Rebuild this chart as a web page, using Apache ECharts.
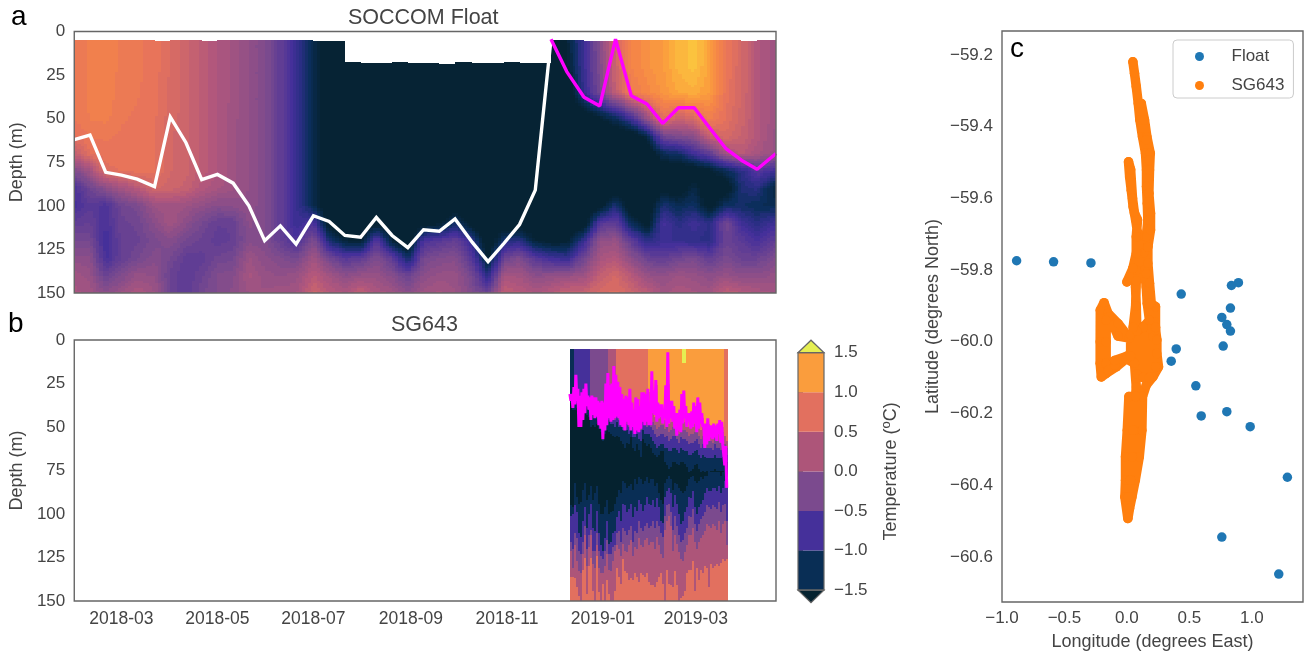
<!DOCTYPE html>
<html><head><meta charset="utf-8">
<style>html,body{margin:0;padding:0;background:#fff}#c{width:1306px;height:657px}</style>
<script src="https://cdn.jsdelivr.net/npm/echarts@6/dist/echarts.min.js"></script>
</head><body><div id="c"></div>
<script>
// ---------- Panel a: float profiles ----------
const floatDates = ['2018-01-30','2018-02-09','2018-02-19','2018-03-01','2018-03-11','2018-03-22','2018-04-01','2018-04-11','2018-04-21','2018-05-01','2018-05-11','2018-05-21','2018-05-31','2018-06-10','2018-06-20','2018-07-01','2018-07-11','2018-07-21','2018-07-31','2018-08-10','2018-08-20','2018-08-30','2018-09-09','2018-09-19','2018-09-29','2018-10-10','2018-10-20','2018-10-30','2018-11-09','2018-11-19','2018-11-29','2018-12-09','2018-12-20','2018-12-30','2019-01-09','2019-01-19','2019-01-29','2019-02-08','2019-02-18','2019-02-28','2019-03-10','2019-03-20','2019-03-30','2019-04-09','2019-04-21'];
const floatDepths = [5,20,35,50,60,70,80,90,100,110,120,130,140,150];
const temp5m = [.8,.9,.95,.85,.82,.75,.62,.5,.35,.2,.1,-.05,-.2,-.5,-.85,-1.35,-1.85,-1.9,-1.9,-1.9,-1.9,-1.9,-1.9,-1.9,-1.9,-1.9,-1.9,-1.9,-1.9,-1.9,-1.9,-1.5,-.85,-.15,.55,.95,1.1,1.2,1.4,1.5,1.25,.8,.55,.25,.05];
const temp20m = [.8,.9,.95,.85,.82,.75,.62,.5,.35,.2,.1,-.05,-.2,-.5,-.85,-1.35,-1.85,-1.9,-1.9,-1.9,-1.9,-1.9,-1.9,-1.9,-1.9,-1.9,-1.9,-1.9,-1.9,-1.9,-1.9,-1.6,-.85,-.2,.5,.95,1.1,1.2,1.4,1.5,1.25,.8,.55,.25,.05];
const temp35m = [.8,.9,.95,.82,.8,.74,.6,.5,.35,.2,.1,-.05,-.2,-.5,-.85,-1.35,-1.85,-1.9,-1.9,-1.9,-1.9,-1.9,-1.9,-1.9,-1.9,-1.9,-1.9,-1.9,-1.9,-1.9,-1.9,-1.9,-.9,-.3,.4,.85,1,1.15,1.3,1.35,1.2,.75,.55,.25,.05];
const temp50m = [.8,.88,.9,.8,.78,.72,.58,.5,.35,.2,.08,-.05,-.2,-.5,-.85,-1.35,-1.85,-1.9,-1.9,-1.9,-1.9,-1.9,-1.9,-1.9,-1.9,-1.9,-1.9,-1.9,-1.9,-1.9,-1.9,-1.9,-1.9,-1.6,-1.3,-.8,0,.7,.45,.6,.9,.7,.5,.25,.05];
const temp60m = [.7,.8,.8,.78,.75,.72,.55,.5,.35,.2,.08,-.05,-.2,-.5,-.85,-1.35,-1.85,-1.9,-1.9,-1.9,-1.9,-1.9,-1.9,-1.9,-1.9,-1.9,-1.9,-1.9,-1.9,-1.9,-1.9,-1.9,-1.9,-1.9,-1.9,-1.85,-1.4,-.35,-.2,-.1,.45,.6,.45,.25,0];
const temp70m = [.4,.7,.78,.78,.75,.72,.55,.5,.35,.2,.08,-.05,-.2,-.5,-.85,-1.35,-1.85,-1.9,-1.9,-1.9,-1.9,-1.9,-1.9,-1.9,-1.9,-1.9,-1.9,-1.9,-1.9,-1.9,-1.9,-1.9,-1.9,-1.9,-1.9,-1.9,-1.9,-1.3,-1.2,-.8,-.5,.1,.3,.15,0];
const temp80m = [-.2,.1,.65,.72,.75,.72,.55,.5,.35,.2,.08,-.05,-.2,-.5,-.85,-1.35,-1.85,-1.9,-1.9,-1.9,-1.9,-1.9,-1.9,-1.9,-1.9,-1.9,-1.9,-1.9,-1.9,-1.9,-1.9,-1.9,-1.9,-1.9,-1.9,-1.9,-1.9,-1.8,-1.85,-1.8,-1.6,-1.3,-1,-.6,-.8];
const temp90m = [-.7,-.35,-.1,.1,.3,.55,.5,.42,.25,.15,.05,-.05,-.2,-.5,-.85,-1.35,-1.85,-1.9,-1.9,-1.9,-1.9,-1.9,-1.9,-1.9,-1.9,-1.9,-1.9,-1.9,-1.9,-1.9,-1.9,-1.9,-1.9,-1.9,-1.8,-1.9,-1.9,-1.7,-1.8,-1.4,-1.9,-1.8,-1.1,-1,-1.5];
const temp100m = [-.75,-.55,-.7,-.35,-.25,.05,.1,.05,-.05,-.15,-.1,-.05,-.2,-.5,-.85,-1.35,-1.85,-1.9,-1.9,-1.9,-1.9,-1.9,-1.9,-1.9,-1.8,-1.9,-1.9,-1.9,-1.9,-1.9,-1.9,-1.9,-1.9,-1.7,-1.1,-1.8,-1.9,-1.1,-1.3,-1.2,-1.7,-1.2,-1.2,-1.3,-1.3];
const temp110m = [-.5,-.45,-.7,-.4,-.35,-.1,.1,-.1,-.3,-.45,-.45,-.1,-.2,-.5,-.85,-.7,-1.7,-1.9,-1.9,-1.7,-1.9,-1.9,-1.7,-1.6,-1.2,-1.7,-1.9,-1.9,-1.8,-1.9,-1.9,-1.85,-1.8,-.6,-.5,-1.3,-1.7,-.75,-1,-.8,-1,-.3,-.8,-1,-.8];
const temp120m = [-.3,-.3,-.8,-.45,-.4,-.25,-.15,-.3,-.4,-.5,-.45,-.15,-.2,-.45,-.7,-.2,-1.1,-1.5,-1.6,-.6,-1.5,-1.9,-.7,-.6,-.45,-.9,-1.9,-1.1,-1,-1.5,-1.65,-1.6,-.9,-.05,0,-.5,-1,-.85,-.9,-.95,-1,-.4,-.55,-.75,-.5];
const temp130m = [-.1,-.1,-.75,-.45,-.3,-.15,-.3,-.5,-.5,-.35,-.3,.05,-.1,-.2,-.3,.1,-.3,-.6,-.5,-.2,-.5,-1.2,-.3,-.2,-.15,-.6,-1.6,-.4,-.2,-.6,-.8,-.9,-.35,.15,.25,-.1,-.4,-.5,-.35,-.25,-.5,-.25,-.4,-.4,-.2];
const temp140m = [.1,0,-.4,-.2,0,-.05,-.4,-.55,-.4,-.2,-.15,.15,0,-.05,0,.3,.1,-.1,0,0,-.15,-.4,-.1,0,0,-.3,-1,.15,.1,-.1,-.05,0,.05,.4,.55,.3,0,-.05,.05,0,-.1,0,-.1,-.1,0];
const temp150m = [.15,.1,-.1,.05,.2,.05,-.4,-.55,-.3,-.2,-.1,.05,.05,.1,.1,.5,.3,.2,.4,.2,.1,-.1,.1,.15,.05,-.2,-.4,.4,.3,.2,.3,.45,.45,.6,.65,.5,.35,.1,.2,.15,.1,.4,.3,.2,.1];
const floatTopDepth = [5,5,5,5,5,5.5,5,5,5.5,5,5,5,5,5,5,5.5,5.5,17.5,18.2,18,17.4,17.8,18.2,18.4,17.6,18.1,18.3,17.4,17.8,18,5,5,5.5,5.5,5,5,5,5,5,5,5,5,5.5,5,5];
const mldWinter = [62,59.4,80.8,82.4,84.7,89,49,63.8,85,82,87,100,120,111.5,122,105.7,109,117,118,106.7,117,124,113.7,114.6,107.5,121,132,121.6,110.7,91,4.4];
const mldSummer = [4.4,23,37.7,42.7,4.4,36.8,41.6,52.7,43.7,43.7,55.5,67,73.8,79,70];

// ---------- Panel b: glider dive columns, isotherm depths (m) ----------
const sgStartDate = '2018-12-11';
const sgDiveDay = [0,1.27,2.54,3.81,5.08,6.35,7.62,8.89,10.16,11.43,12.7,13.97,15.24,16.51,17.78,19.05,20.32,21.59,22.86,24.13,25.4,26.67,27.94,29.21,30.48,31.75,33.02,34.29,35.56,36.83,38.1,39.37,40.64,41.91,43.18,44.45,45.72,46.99,48.26,49.53,50.8,52.07,53.34,54.61,55.88,57.15,58.42,59.69,60.96,62.23,63.5,64.77,66.04,67.31,68.58,69.85,71.12,72.39,73.66,74.93,76.2,77.47,78.74,80.01,81.28,82.55,83.82,85.09,86.36,87.63,88.9,90.17,91.44,92.71,93.98,95.25,96.52,97.79,99.06,100.33];
const sgMldShallow = [31,31,27,20,28,32,30,28,25,32,33,32,33,33,35,36,35,36,25,19,26,25,15,20,24,27,31,34,32,33,28,36,40,33,34,38,30,30,31,28,40,18,29,23,36,37,37,40,26,7,35,35,38,42,42,40,31,29,38,42,42,41,36,38,33,36,42,48,48,45,49,49,48,49,48,46,47,61,61];
const sgMldDeep = [35,39,37,35,50,50,46,42,38,40,46,43,45,44,49,51,57,52,49,45,47,46,45,44,45,49,50,52,47,49,52,50,54,52,53,51,47,49,47,49,49,42,43,47,45,44,48,45,50,48,45,47,51,55,52,53,48,45,50,47,51,50,48,53,51,48,50,62,60,58,56,57,56,58,54,59,60,72,85];
const sgIsoUp1500 = [5,5,5,5,5,5,5,5,5,5,5,5,5,5,5,5,5,5,5,5,5,5,5,5,5,5,5,5,5,5,5,5,5,5,5,5,5,5,5,5,5,5,5,5,5,5,5,5,5,5,5,5,5,5,5,5,13,13,5,5,5,5,5,5,5,5,5,5,5,5,5,5,5,5,5,5,5,5,5];
const sgIsoUp1000 = [5,5,5,5,5,5,5,5,5,5,5,5,5,5,5,5,5,5,5,5,5,5,5,5,5,5,5,5,5,5,5,5,5,5,5,5,5,5,5,30,30,36,40,26,38,40,41,42,36,25,40,40,42,44,45,44,40,38,42,45,45,44,42,43,40,42,45,50,50,48,52,52,50,52,51,49,50,5,5];
const sgIsoUp500 = [5,5,5,5,5,5,5,5,5,5,5,5,5,5,5,5,5,5,5,5,5,5,5,37,38,38,39,39,40,43,38,42,44,41,43,44,40,42,42,41,42,42,44,46,45,44,44,46,45,48,47,45,45,47,49,46,47,47,48,50,49,49,48,47,50,52,50,51,53,53,53,54,51,53,53,54,53,55,58];
const sgIsoUp0 = [5,5,5,5,5,5,5,5,5,5,5,5,5,5,5,5,5,5,5,41,43,42,43,41,43,43,43,44,45,47,42,46,48,45,47,48,44,46,46,45,46,47,49,51,50,49,49,51,50,53,52,50,50,52,54,51,52,52,53,55,54,54,53,52,55,57,55,56,58,58,58,59,56,58,58,59,58,60,62];
const sgIsoUpM500 = [5,5,5,5,5,5,5,5,5,5,40,39,41,37,42,44,46,44,43,43,45,45,46,44,46,46,46,47,48,50,45,50,52,48,50,52,47,49,50,49,50,52,54,56,55,54,54,56,55,58,57,55,55,57,59,56,57,57,58,60,59,59,58,57,60,62,60,61,62,62,62,63,60,62,62,63,62,64,66];
const sgIsoUpM1000 = [5,5,36,36,44,44,42,36,38,40,45,42,45,40,46,48,50,48,46,46,48,48,50,47,50,50,52,52,52,54,50,56,56,54,57,58,52,54,54,54,56,58,60,62,61,60,60,62,62,64,64,62,62,63,65,62,63,64,64,66,66,65,64,63,66,68,66,67,68,68,68,68,66,68,68,68,67,68,70];
const sgIsoUpM1500 = [36,40,40,39,50,50,46,40,43,44,50,49,50,48,51,53,58,54,52,53,54,55,56,55,56,58,60,62,59,60,56,62,64,60,63,67,57,59,61,60,62,65,66,67,66,64,64,70,72,74,73,70,70,71,72,70,70,71,73,76,75,74,72,71,74,76,75,76,75,76,75,75,74,75,75,75,75,75,75];
const sgIsoDownM1500 = [95,96,82,90,94,93,86,82,92,89,84,92,88,84,94,100,100,96,92,100,99,98,94,90,86,88,81,82,85,84,83,86,80,83,79,80,83,81,79,82,80,80,84,82,88,92,94,82,80,78,80,86,82,83,85,87,88,87,84,80,79,78,81,82,81,79,80,78,78,76,76,76,76,76,76,78,76,75,75];
const sgIsoDownM1000 = [101,100,95,99,111,113,104,96,108,100,94,108,110,98,111,118,121,114,104,117,116,111,110,102,98,104,94,95,99,97,94,102,96,98,92,94,98,95,90,94,95,92,96,91,96,104,105,90,87,85,88,96,89,94,100,106,104,99,96,90,91,87,96,100,96,94,92,88,85,87,87,85,85,87,84,88,85,81,80];
const sgIsoDownM500 = [116,120,111,114,121,123,116,107,120,112,109,121,121,111,121,124,126,121,115,123,123,119,118,111,110,116,108,110,112,109,107,116,110,111,104,108,110,107,105,108,107,104,108,104,107,111,113,101,95,94,99,109,101,107,112,116,115,111,108,101,102,97,106,110,106,103,101,99,95,96,97,95,96,97,93,99,95,94,104];
const sgIsoDown0 = [121,131,118,127,133,134,123,112,130,119,112,129,131,118,131,134,134,130,123,132,133,127,121,118,120,124,117,121,122,118,115,124,119,120,114,118,119,115,114,118,116,116,120,113,118,123,125,109,104,101,107,121,112,117,122,126,127,122,118,112,112,108,116,120,116,114,112,110,106,107,108,106,107,109,104,111,106,104,118];
const sgIsoDown500 = [136,136,137,142,147,150,132,125,146,130,125,144,150,124,145,150,140,150,138,146,150,150,144,131,136,140,126,133,134,138,137,138,134,136,139,134,135,136,134,139,141,141,142,139,136,134,140,150,132,140,141,142,133,141,150,148,147,144,134,132,132,127,144,131,138,132,134,130,131,142,129,131,130,129,130,128,126,127,126];
const sgBandTemps = [1.75,1.25,.75,.25,-.25,-.75,-1.25,-1.75,-1.25,-.75,-.25,.25,.75];

// ---------- Panel c: positions ----------
const floatLon = [-.883,-.587,-.288,.435,.893,.837,.829,.76,.8,.829,.395,.355,.771,.552,.595,.8,.987,1.285,.76,1.216];
const floatLat = [-59.774,-59.777,-59.78,-59.867,-59.835,-59.843,-59.906,-59.932,-59.952,-59.97,-60.02,-60.054,-60.012,-60.123,-60.207,-60.195,-60.237,-60.378,-60.545,-60.648];
const sgLon = [.048,.061,.075,.091,.104,.125,.149,.157,.157,.163,.168,.155,.133,.141,.155,.163,.181,.208,.229,.229,.195,.181,.168,.168,.189,.189,.176,.181,.187,.16,.141,.115,.155,.176,.176,.181,.168,.155,.181,.221,.24,.24,.253,.208,.155,.125,.12,.099,.067,.04,.021,.008,-.016,-.011,-.011,.003,.016,.07,.06,.044,.028,.012,.028,.048,.075,.061,-.005,-.085,-.165,-.205,-.214,-.214,-.213,-.183,-.151,-.071,.02,-.071,-.14,-.166,-.166,-.166,-.15,-.098,0,-.098,.03,.03,.08,.08,.13,.13,.18,.18,.23,.23,.13,.08,.075,.069,.075,.085,.09,.07,.05,.035,.022,.013,.03,.045,.06,.085,.075,.075,.048,0,.048,.075,.07,.05];
const sgLat = [-59.219,-59.251,-59.288,-59.335,-59.381,-59.428,-59.474,-59.521,-59.567,-59.614,-59.66,-59.707,-59.753,-59.8,-59.847,-59.893,-59.94,-59.986,-59.967,-59.902,-59.893,-59.837,-59.781,-59.735,-59.688,-59.642,-59.586,-59.521,-59.474,-59.428,-59.381,-59.335,-59.437,-59.493,-59.586,-59.66,-59.735,-59.81,-59.893,-59.944,-59.995,-60.033,-60.07,-60.098,-60.121,-60.153,-60.247,-60.321,-60.386,-60.433,-60.465,-60.493,-60.433,-60.386,-60.321,-60.247,-60.153,-60.153,-60.247,-60.321,-60.386,-60.433,-60.386,-60.247,-60.126,-60.06,-60.047,-60.07,-60.088,-60.098,-60.06,-60,-59.912,-59.891,-59.921,-59.949,-59.99,-59.984,-59.93,-59.94,-60,-60.06,-60.08,-60.065,-60.04,-60.052,-60.04,-59.98,-59.97,-60.09,-60.1,-59.96,-59.94,-60.1,-60.07,-59.96,-59.96,-59.97,-59.9,-59.847,-59.8,-59.755,-59.707,-59.66,-59.623,-59.577,-59.54,-59.498,-59.52,-59.6,-59.64,-59.66,-59.707,-59.753,-59.795,-59.833,-59.795,-59.83,-59.9,-59.96];

// ---------- Ticks, labels ----------
const dateTicks = ['2018-03-01','2018-05-01','2018-07-01','2018-09-01','2018-11-01','2019-01-01','2019-03-01'];
const timeRange = ['2018-01-30','2019-04-21'];
const colourLevels = [-1.5,-1,-.5,0,.5,1,1.5];
const binColours = ['#092e55','#45309a','#7b4a8e','#ad5579','#e2705f','#fa9d3d'];
const underColour = '#05222f', overColour = '#e5ef52';
const lonTicks = [-1,-.5,0,.5,1];
const latTicks = [-60.6,-60.4,-60.2,-60,-59.8,-59.6,-59.4,-59.2];
const latRange = [-60.726,-59.133], lonRange = [-1,1.41];
// stops of the smooth filled-contour colour ramp used in panel a
const rampValues = [-1.55,-1.25,-1,-.75,-.25,.25,.75,1,1.25,1.5,1.75];
const rampColours = ['#062334','#0b2e5c','#2a2e84','#45309a','#7a4a8e','#b2577c','#e8745a','#f58647','#fba03d','#fbc33e','#e6ef50'];

// ---------- helpers ----------
// the x axes count days from the first date tick; the labels turn them back into months
const dayBase = new Date(dateTicks[0]).getTime();
const ts = s => (new Date(s).getTime()-dayBase)/864e5;
const font = 'Liberation Sans';
const textColour = '#444';
const hex = c => [1,3,5].map(i => parseInt(c.substr(i,2),16));
function rampColour(v){
  v = Math.round(v*12)/12;                    // contour-like steps
  if (v <= rampValues[0]) return rampColours[0];
  for (let i=1;i<rampValues.length;i++){
    if (v <= rampValues[i]){
      const f=(v-rampValues[i-1])/(rampValues[i]-rampValues[i-1]), a=hex(rampColours[i-1]), b=hex(rampColours[i]);
      return 'rgb('+a.map((x,k)=>Math.round(x+(b[k]-x)*f)).join(',')+')';
    }
  }
  return rampColours[rampColours.length-1];
}
function binColour(v){
  if (v < colourLevels[0]) return underColour;
  if (v > colourLevels[6]) return overColour;
  for (let i=0;i<6;i++) if (v <= colourLevels[i+1]) return binColours[i];
}
const minusFmt = d => v => Number(v).toFixed(d).replace('-','\u2212');

// panel a cells
const tempRows = [temp5m,temp20m,temp35m,temp50m,temp60m,temp70m,temp80m,temp90m,temp100m,temp110m,temp120m,temp130m,temp140m,temp150m];
const cells = [];
for (let i=0;i<floatDates.length-1;i++) for (let j=0;j<floatDepths.length-1;j++)
  cells.push([ts(floatDates[i]),floatDepths[j],ts(floatDates[i+1]),floatDepths[j+1],tempRows[j][i],tempRows[j][i+1],tempRows[j+1][i],tempRows[j+1][i+1],floatTopDepth[i]]);

// pixel-snapped rectangle, so neighbouring shading tiles leave no seams
const snapRect = (x0,y0,x1,y1,fill) => {
  const X=Math.round(x0),Y=Math.round(y0);
  return {type:'rect',silent:true,shape:{x:X,y:Y,width:Math.max(1,Math.round(x1)-X),height:Math.max(1,Math.round(y1)-Y)},style:{fill}};
};
function renderCell(params,api){
  const t0=api.value(0),d0=api.value(1),t1=api.value(2),d1=api.value(3);
  const v00=api.value(4),v10=api.value(5),v01=api.value(6),v11=api.value(7),top=api.value(8);
  const a=api.coord([t0,d0]),b=api.coord([t1,d1]);
  const w=b[0]-a[0],h=b[1]-a[1],nx=Math.max(1,Math.round(w/3)),ny=Math.max(1,Math.round(h/2.5));
  const children=[];
  for(let ix=0;ix<nx;ix++)for(let iy=0;iy<ny;iy++){
    const u=(ix+.5)/nx,v=(iy+.5)/ny;
    let dA=d0+(d1-d0)*iy/ny,dB=d0+(d1-d0)*(iy+1)/ny;
    if(dB<=top)continue;
    if(dA<top)dA=top;
    const val=v00*(1-u)*(1-v)+v10*u*(1-v)+v01*(1-u)*v+v11*u*v;
    const yA=a[1]+(dA-d0)/(d1-d0)*h,yB=a[1]+(dB-d0)/(d1-d0)*h;
    children.push(snapRect(a[0]+w*ix/nx,yA,a[0]+w*(ix+1)/nx,yB,rampColour(val)));
  }
  return {type:'group',children};
}

// panel b columns
const sgDays = sgDiveDay.map(d => ts(sgStartDate)+d);
const sgColumns = sgMldDeep.map((_,k)=>[sgDays[k],sgDays[k+1],5,sgIsoUp1500[k],sgIsoUp1000[k],sgIsoUp500[k],sgIsoUp0[k],sgIsoUpM500[k],sgIsoUpM1000[k],sgIsoUpM1500[k],sgIsoDownM1500[k],sgIsoDownM1000[k],sgIsoDownM500[k],sgIsoDown0[k],sgIsoDown500[k],150]);
function renderColumn(params,api){
  const t0=api.value(0),t1=api.value(1),children=[];
  let prev=api.value(2);
  sgBandTemps.forEach((temp,n)=>{
    const next=Math.max(prev,api.value(n+3));
    if(next>prev){
      const a=api.coord([t0,prev]),b=api.coord([t1,next]);
      children.push(snapRect(a[0],a[1],b[0],b[1],binColour(temp)));
    }
    prev=next;
  });
  return {type:'group',children};
}
const sgMldLine = [];
sgMldShallow.forEach((d,k)=>{
  sgMldLine.push([sgDays[k],d]);
  sgMldLine.push([(sgDays[k]+sgDays[k+1])/2,sgMldDeep[k]]);
});

// colour bar
const cbarBands = binColours.map((c,i)=>[0,colourLevels[i],1,colourLevels[i+1],i]);
function renderBand(params,api){
  const a=api.coord([0,api.value(3)]),b=api.coord([1,api.value(1)]);
  return {type:'rect',shape:{x:a[0],y:a[1],width:b[0]-a[0],height:b[1]-a[1]},style:{fill:binColours[api.value(4)]}};
}
function renderEnds(params,api){
  const tl=api.coord([0,colourLevels[6]]),tr=api.coord([1,colourLevels[6]]),bl=api.coord([0,colourLevels[0]]),br=api.coord([1,colourLevels[0]]);
  const cx=(tl[0]+tr[0])/2,ext=12.5,line={stroke:'#666',lineWidth:1.2};
  return {type:'group',children:[
    {type:'polygon',shape:{points:[tl,tr,[cx,tl[1]-ext]]},style:{fill:overColour,...line}},
    {type:'polygon',shape:{points:[bl,br,[cx,bl[1]+ext]]},style:{fill:underColour,...line}},
    {type:'rect',shape:{x:tl[0],y:tl[1],width:tr[0]-tl[0],height:bl[1]-tl[1]},style:{fill:'none',...line}}
  ]};
}
function frame(xi,yi){
  return {type:'custom',xAxisIndex:xi,yAxisIndex:yi,z:30,silent:true,data:[[0]],encode:{},clip:false,tooltip:{show:false},
    renderItem:(params)=>{const c=params.coordSys;return {type:'rect',shape:{x:c.x,y:c.y,width:c.width,height:c.height},style:{fill:'none',stroke:'#666',lineWidth:1.4}};}};
}
const axisText = {color:textColour,fontFamily:font,fontSize:17};
const dateText = {color:textColour,fontFamily:font,fontSize:17.5};
const nameText = {color:textColour,fontFamily:font,fontSize:18};
const titleText = {color:textColour,fontFamily:font,fontSize:21.5,fontWeight:'normal'};
const timeAxis = (idx,labels) => ({type:'value',gridIndex:idx,min:ts(timeRange[0]),max:ts(timeRange[1]),
  axisLine:{show:false},axisTick:{show:false},splitLine:{show:false},
  axisLabel:{show:labels,...dateText,margin:9,hideOverlap:false,customValues:dateTicks.map(ts),
    formatter:v=>new Date(dayBase+Number(v)*864e5).toISOString().slice(0,7)}});
const depthAxis = idx => ({type:'value',gridIndex:idx,inverse:true,min:0,max:150,interval:25,
  name:'Depth (m)',nameLocation:'middle',nameGap:46,nameTextStyle:nameText,
  axisLine:{show:false},axisTick:{show:false},splitLine:{show:false},axisLabel:{...axisText,margin:9}});

const option = {
  animation:false,backgroundColor:'#fff',textStyle:{fontFamily:font},
  title:[
    {text:'SOCCOM Float',left:348,top:7,padding:0,textStyle:titleText},
    {text:'SG643',left:391,top:314,padding:0,textStyle:titleText}
  ],
  legend:{orient:'vertical',left:1173,top:40,padding:[8,9,4,22],itemWidth:28,itemHeight:9,itemGap:12,selectedMode:false,
    borderColor:'#ccc',borderWidth:1,borderRadius:4,backgroundColor:'rgba(255,255,255,.8)',
    textStyle:{color:textColour,fontFamily:font,fontSize:17,padding:[0,0,0,13]},
    data:[{name:'Float',icon:'circle'},{name:'SG643',icon:'circle'}]},
  grid:[
    {left:73,top:31.5,width:703,height:261.5},
    {left:73,top:340,width:703,height:261},
    {left:1002,top:31,width:301,height:571},
    {left:798,top:352.7,width:26,height:237.5}
  ],
  xAxis:[timeAxis(0,false),timeAxis(1,true),
    {type:'value',gridIndex:2,min:lonRange[0],max:lonRange[1],axisLine:{show:false},axisTick:{show:false},splitLine:{show:false},
     name:'Longitude (degrees East)',nameLocation:'middle',nameGap:31,nameTextStyle:nameText,
     axisLabel:{...axisText,margin:8,customValues:lonTicks,formatter:minusFmt(1)}},
    {type:'value',gridIndex:3,min:0,max:1,show:false}],
  yAxis:[depthAxis(0),depthAxis(1),
    {type:'value',gridIndex:2,min:latRange[0],max:latRange[1],axisLine:{show:false},axisTick:{show:false},splitLine:{show:false},
     name:'Latitude (degrees North)',nameLocation:'middle',nameGap:60,nameTextStyle:nameText,
     axisLabel:{...axisText,margin:9,customValues:latTicks,formatter:minusFmt(1)}},
    {type:'value',gridIndex:3,position:'right',min:-1.5,max:1.5,interval:.5,
     axisLine:{show:false},axisTick:{show:true,length:5,lineStyle:{color:'#666',width:1.2}},splitLine:{show:false},
     axisLabel:{...axisText,margin:10,formatter:minusFmt(1)},
     name:'{t|Temperature (}{s|o}{t|C)}',nameLocation:'middle',nameGap:56,nameRotate:90,
     nameTextStyle:{rich:{t:{...nameText},s:{...nameText,fontSize:13,padding:[0,0,9,0]}}}}],
  series:[
    {type:'custom',xAxisIndex:0,yAxisIndex:0,z:2,silent:true,renderItem:renderCell,data:cells,encode:{x:[0,2],y:[1,3]},clip:true},
    {type:'line',xAxisIndex:0,yAxisIndex:0,z:5,silent:true,symbol:'none',lineStyle:{color:'#fff',width:3.4,join:'miter'},data:mldWinter.map((d,i)=>[ts(floatDates[i]),d])},
    {type:'line',xAxisIndex:0,yAxisIndex:0,z:6,silent:true,symbol:'none',lineStyle:{color:'#ff00ff',width:3.4},data:mldSummer.map((d,i)=>[ts(floatDates[i+30]),d])},
    {type:'custom',xAxisIndex:1,yAxisIndex:1,z:2,silent:true,renderItem:renderColumn,data:sgColumns,encode:{x:[0,1],y:[2,15]},clip:true},
    {type:'line',xAxisIndex:1,yAxisIndex:1,z:5,silent:true,symbol:'none',lineStyle:{color:'#ff00ff',width:3},data:sgMldLine},
    {name:'Float',type:'scatter',xAxisIndex:2,yAxisIndex:2,z:4,symbolSize:9.5,itemStyle:{color:'#1f77b4',opacity:1},data:floatLon.map((x,i)=>[x,floatLat[i]])},
    {name:'SG643',type:'line',xAxisIndex:2,yAxisIndex:2,z:5,symbol:'circle',symbolSize:9.5,showAllSymbol:true,itemStyle:{color:'#ff7f0e'},lineStyle:{color:'#ff7f0e',width:9.5,cap:'round',join:'round'},data:sgLon.map((x,i)=>[x,sgLat[i]])},
    {type:'custom',xAxisIndex:3,yAxisIndex:3,z:2,silent:true,renderItem:renderBand,data:cbarBands,encode:{x:[0,2],y:[1,3]}},
    {type:'custom',xAxisIndex:3,yAxisIndex:3,z:3,silent:true,renderItem:renderEnds,data:[[0,0]],encode:{x:0,y:1},clip:false},
    frame(0,0),frame(1,1),frame(2,2)
  ],
  graphic:[
    {type:'text',left:11,top:3,style:{text:'a',fill:'#000',font:'28px "Liberation Sans"'}},
    {type:'text',left:8,top:310,style:{text:'b',fill:'#000',font:'28px "Liberation Sans"'}},
    {type:'text',left:1010,top:35,z:40,style:{text:'c',fill:'#000',font:'28px "Liberation Sans"'}}
  ]
};
const chart = echarts.init(document.getElementById('c'),null,{renderer:'canvas'});
chart.setOption(option);
</script></body></html>
